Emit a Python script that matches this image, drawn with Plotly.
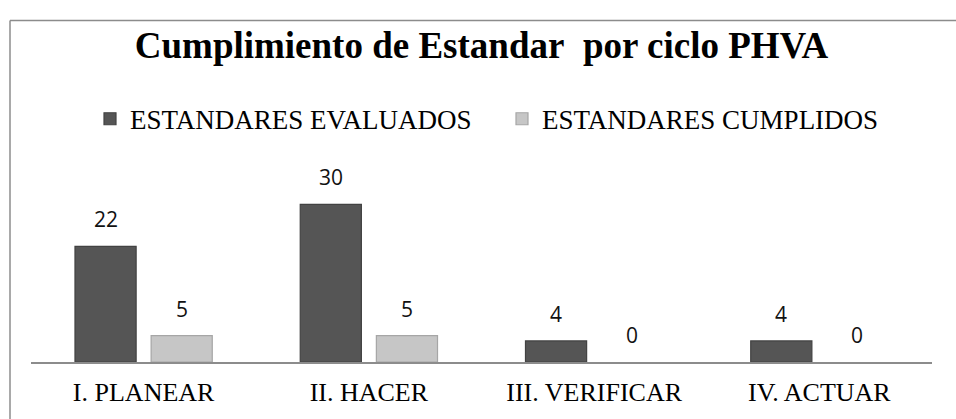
import plotly.graph_objects as go

categories = ["I. PLANEAR", "II. HACER", "III. VERIFICAR", "IV. ACTUAR"]
evaluados = [22, 30, 4, 4]
cumplidos = [5, 5, 0, 0]
series_names = ["ESTANDARES EVALUADOS", "ESTANDARES CUMPLIDOS"]
title_text = "Cumplimiento de Estandar\u00a0 por ciclo PHVA"

W, H = 956, 419
PL, PR, PT, PB = 31, 932, 178, 372   # plot area in pixels
L, R, T, B = PL, W - PR, PT, H - PB

fig = go.Figure()
fig.add_trace(go.Bar(
    x=categories, y=evaluados, name=series_names[0],
    marker=dict(color="#555555",
                line=dict(color="#424242", width=[1.2 if v else 0 for v in evaluados])),
))
fig.add_trace(go.Bar(
    x=categories, y=cumplidos, name=series_names[1],
    marker=dict(color="#c6c6c6",
                line=dict(color="#a6a6a6", width=[1.2 if v else 0 for v in cumplidos])),
))

# data labels above bars
for vals, shift in ((evaluados, -38), (cumplidos, 38)):
    for c, v in zip(categories, vals):
        fig.add_annotation(
            x=c, y=v, xref="x", yref="y", text=str(v), showarrow=False,
            xshift=shift, yshift=27, yanchor="middle", xanchor="center",
            font=dict(family="Open Sans", size=21, color="#111111"),
        )

# outer chart border (top and left edges visible in the frame)
pw = PR - PL
ph = PB - PT
bx0 = (10 - PL) / pw
bx1 = (980 - PL) / pw
by0 = (PB - 440) / ph
by1 = (PB - 12) / ph
fig.add_shape(type="line", xref="paper", yref="paper",
              x0=bx0, x1=bx1, y0=by1, y1=by1,
              line=dict(color="#8c8c8c", width=1.5), layer="below")
fig.add_shape(type="line", xref="paper", yref="paper",
              x0=bx0, x1=bx0, y0=by0, y1=by1,
              line=dict(color="#8c8c8c", width=1.5), layer="below")

fig.update_layout(
    width=W, height=H,
    margin=dict(l=L, r=R, t=T, b=B, pad=0),
    paper_bgcolor="white", plot_bgcolor="white",
    font=dict(family="Liberation Serif", color="black"),
    barmode="group", bargap=0.324, bargroupgap=0.197,
    title=dict(
        text=title_text, x=0.5, xref="paper", xanchor="center",
        y=1 - 45 / H, yref="container", yanchor="middle",
        font=dict(family="Liberation Serif", size=37, color="black", weight="bold"),
    ),
    legend=dict(
        orientation="h", x=(90 - PL) / pw, xanchor="left", xref="paper",
        y=(PB - 116) / ph, yanchor="middle", yref="paper",
        font=dict(family="Liberation Serif", size=27, color="black"),
        entrywidth=367, bgcolor="rgba(0,0,0,0)", borderwidth=0,
    ),
    xaxis=dict(
        showline=True, linecolor="#8c8c8c", linewidth=1.5,
        showgrid=False, ticks="", zeroline=False, ticklabelstandoff=6,
        tickfont=dict(family="Liberation Serif", size=26, color="black"),
    ),
    yaxis=dict(
        range=[0, 35], visible=False, showgrid=False, zeroline=False,
    ),
    showlegend=True,
)

fig.write_html(
    "out.html",
    config={"displayModeBar": False},
    post_script="document.body.style.margin='0px';document.body.style.overflow='hidden';",
)
